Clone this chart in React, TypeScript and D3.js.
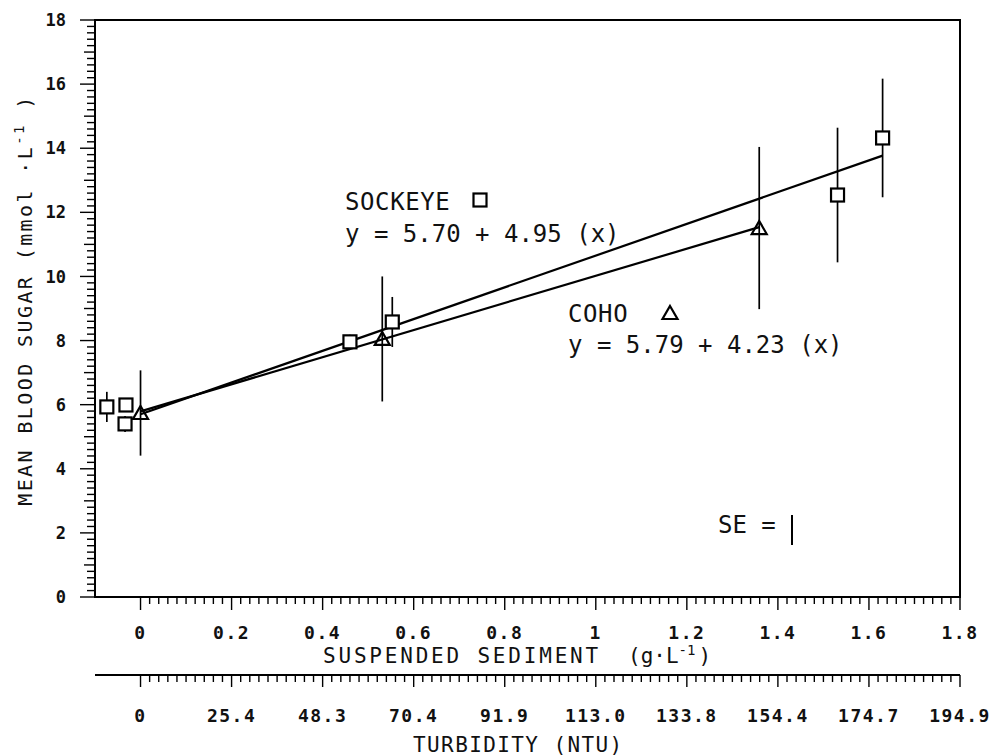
import React from 'react';
import * as d3 from 'd3';

// sockeye points (suspended sediment g/L, blood sugar mmol/L, standard error)
const sockeyeX = [-0.074, -0.032, -0.034, 0.46, 0.553, 1.531, 1.63];
const sockeyeY = [5.93, 5.99, 5.4, 7.96, 8.58, 12.54, 14.32];
const sockeyeSE = [0.47, 0.2, 0.25, 0.22, 0.78, 2.1, 1.85];

// coho points
const cohoX = [0, 0.531, 1.359];
const cohoY = [5.74, 8.05, 11.51];
const cohoSE = [1.33, 1.95, 2.53];

// regression lines: intercept, slope, x range
const fitNames = ['sockeye', 'coho'];
const fitIntercept = [5.7, 5.79];
const fitSlope = [4.95, 4.23];
const fitXEnd = [1.63, 1.359];

// axes
const sedimentTicks = [0, 0.2, 0.4, 0.6, 0.8, 1, 1.2, 1.4, 1.6, 1.8];
const sedimentLabels = ['0', '0.2', '0.4', '0.6', '0.8', '1', '1.2', '1.4', '1.6', '1.8'];
const turbidityLabels = ['0', '25.4', '48.3', '70.4', '91.9', '113.0', '133.8', '154.4', '174.7', '194.9'];
const yTicks = [0, 2, 4, 6, 8, 10, 12, 14, 16, 18];

const FONT = '"DejaVu Sans Mono", "Liberation Mono", monospace';

const App = () => {
  const left = 95, right = 960, top = 20, bottom = 597;
  const turbAxisY = 675;

  const xScale = d3.scaleLinear().domain([-0.1, 1.8]).range([left, right]);
  const yScale = d3.scaleLinear().domain([0, 18]).range([bottom, top]);

  const xMinor = d3.range(0, 1.8001, 0.02);
  const yMinor = d3.range(0, 18.001, 0.2);

  const line = d3.line<[number, number]>()
    .x(d => xScale(d[0]))
    .y(d => yScale(d[1]));

  const square = (cx: number, cy: number, key: string) => (
    <rect key={key} x={cx - 6.5} y={cy - 6.5} width={13} height={13}
      fill="#fff" stroke="#000" strokeWidth={2.2} />
  );
  const triangle = (cx: number, cy: number, key: string) => (
    <path key={key}
      d={`M${cx},${cy - 7} L${cx + 7.5},${cy + 6} L${cx - 7.5},${cy + 6} Z`}
      fill="none" stroke="#000" strokeWidth={2.2} />
  );

  return (
    <svg width={992} height={756} style={{ position: 'absolute', left: 0, top: 0, background: '#fff' }}
      fontFamily={FONT} fill="#111">
      <rect x={0} y={0} width={992} height={756} fill="#fff" />

      {/* plot frame */}
      <rect x={left} y={top} width={right - left} height={bottom - top}
        fill="none" stroke="#000" strokeWidth={2} />

      {/* y axis ticks */}
      {yMinor.map((v, i) => {
        const isMajor = Math.abs(v - Math.round(v)) < 1e-6 && Math.round(v) % 2 === 0;
        const isMid = Math.abs(v - Math.round(v)) < 1e-6 && !isMajor;
        const len = isMajor ? 15 : isMid ? 11 : 8;
        return <line key={'ym' + i} x1={left - len} x2={left} y1={yScale(v)} y2={yScale(v)}
          stroke="#000" strokeWidth={1.4} />;
      })}
      {yTicks.map(v => (
        <text key={'yl' + v} x={66} y={yScale(v)} dy="0.36em" textAnchor="end"
          fontSize={17} fontWeight="bold">{v}</text>
      ))}

      {/* sediment axis ticks */}
      {xMinor.map((v, i) => {
        const isMajor = i % 10 === 0;
        return <line key={'xm' + i} x1={xScale(v)} x2={xScale(v)} y1={bottom}
          y2={bottom + (isMajor ? 13 : 7)} stroke="#000" strokeWidth={1.4} />;
      })}
      {sedimentTicks.map((v, i) => (
        <text key={'xl' + i} x={xScale(v)} y={639} textAnchor="middle"
          fontSize={18} fontWeight="bold" letterSpacing={1.5}>{sedimentLabels[i]}</text>
      ))}
      <text x={323} y={663} fontSize={21} letterSpacing={2.8}>SUSPENDED SEDIMENT</text>
      <text x={628} y={663} fontSize={21}>
        (g·L<tspan fontSize={14} dy={-8}>-1</tspan><tspan dx={3} dy={8}>)</tspan>
      </text>

      {/* turbidity axis */}
      <line x1={left} x2={right} y1={turbAxisY} y2={turbAxisY} stroke="#000" strokeWidth={2} />
      {xMinor.map((v, i) => {
        const isMajor = i % 10 === 0;
        return <line key={'tm' + i} x1={xScale(v)} x2={xScale(v)} y1={turbAxisY}
          y2={turbAxisY + (isMajor ? 12 : 7)} stroke="#000" strokeWidth={1.4} />;
      })}
      {sedimentTicks.map((v, i) => (
        <text key={'tl' + i} x={xScale(v)} y={722} textAnchor="middle"
          fontSize={18} fontWeight="bold" letterSpacing={1.5}>{turbidityLabels[i]}</text>
      ))}
      <text x={413} y={752} fontSize={21} letterSpacing={1.4}>TURBIDITY (NTU)</text>

      {/* y axis title */}
      <text transform="translate(32,300) rotate(-90)" textAnchor="middle" fontSize={20} letterSpacing={2.4}>
        MEAN BLOOD SUGAR (mmol ·L<tspan fontSize={14} dy={-8}>-1</tspan><tspan dy={8}> )</tspan>
      </text>

      {/* regression lines */}
      {fitNames.map((n, i) => (
        <path key={'fit' + n}
          d={line([[0, fitIntercept[i]], [fitXEnd[i], fitIntercept[i] + fitSlope[i] * fitXEnd[i]]]) || ''}
          fill="none" stroke="#000" strokeWidth={2.2} />
      ))}

      {/* error bars */}
      {sockeyeX.map((x, i) => (
        <line key={'se' + i} x1={xScale(x)} x2={xScale(x)}
          y1={yScale(sockeyeY[i] - sockeyeSE[i])} y2={yScale(sockeyeY[i] + sockeyeSE[i])}
          stroke="#000" strokeWidth={1.7} />
      ))}
      {cohoX.map((x, i) => (
        <line key={'ce' + i} x1={xScale(x)} x2={xScale(x)}
          y1={yScale(cohoY[i] - cohoSE[i])} y2={yScale(cohoY[i] + cohoSE[i])}
          stroke="#000" strokeWidth={1.7} />
      ))}

      {/* markers */}
      {sockeyeX.map((x, i) => square(xScale(x), yScale(sockeyeY[i]), 'sq' + i))}
      {cohoX.map((x, i) => triangle(xScale(x), yScale(cohoY[i]), 'tr' + i))}

      {/* annotations */}
      <text x={345} y={210} fontSize={24} letterSpacing={0.6}>SOCKEYE</text>
      {square(480, 200, 'legsq')}
      <text x={345} y={242} fontSize={24}>y = 5.70 + 4.95 (x)</text>

      <text x={568} y={322} fontSize={24} letterSpacing={0.6}>COHO</text>
      {triangle(670, 313, 'legtr')}
      <text x={568} y={353} fontSize={24}>y = 5.79 + 4.23 (x)</text>

      <text x={718} y={533} fontSize={24}>SE =</text>
      <line x1={792} x2={792} y1={515} y2={545} stroke="#000" strokeWidth={2} />
    </svg>
  );
};

export default App;
